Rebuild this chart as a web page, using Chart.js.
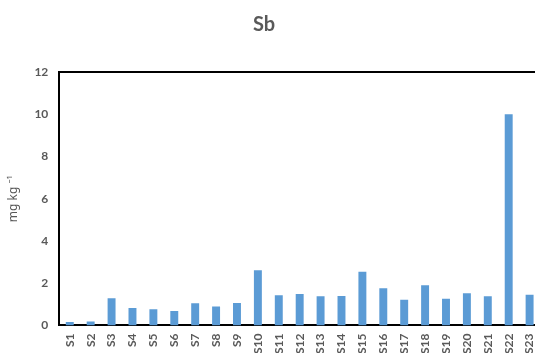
<!DOCTYPE html>
<html>
<head>
<meta charset="utf-8">
<script src="https://cdn.jsdelivr.net/npm/chart.js@4"></script>
<style>
  html, body { margin: 0; padding: 0; background: #fff; overflow: hidden; }
  #sbChart { display: block; }
</style>
</head>
<body>
<canvas id="sbChart" width="552" height="353"></canvas>
<script>
const sites = ['S1', 'S2', 'S3', 'S4', 'S5', 'S6', 'S7', 'S8', 'S9', 'S10', 'S11', 'S12',
    'S13', 'S14', 'S15', 'S16', 'S17', 'S18', 'S19', 'S20', 'S21', 'S22', 'S23'];
const sbValues = [0.17, 0.19, 1.29, 0.83, 0.77, 0.69, 1.05, 0.9, 1.07, 2.62, 1.43, 1.49,
    1.38, 1.4, 2.55, 1.76, 1.22, 1.91, 1.27, 1.53, 1.39, 10.0, 1.45];
const yTicks = [0, 2, 4, 6, 8, 10, 12];

const textGrey = '#595959';
const chartTitle = 'Sb';

// cadre noir en haut + titre (placé comme dans la figure d'origine)
const frameAndTitle = {
    id: 'frameAndTitle',
    afterDraw(chart) {
        const a = chart.chartArea;
        const ctx = chart.ctx;
        ctx.save();
        ctx.strokeStyle = '#000';
        ctx.lineWidth = 2;
        ctx.beginPath();
        ctx.moveTo(a.left - 1, a.top);
        ctx.lineTo(a.right + 10, a.top);
        ctx.stroke();

        ctx.fillStyle = textGrey;
        ctx.font = 'bold 20px Lato';
        ctx.textAlign = 'center';
        ctx.textBaseline = 'middle';
        ctx.fillText(chartTitle, 264, 25);
        ctx.restore();
    }
};

const ctx = document.getElementById('sbChart').getContext('2d');
new Chart(ctx, {
    type: 'bar',
    data: {
        labels: sites,
        datasets: [{
            label: 'Sb',
            data: sbValues,
            backgroundColor: '#5B9BD5',
            borderWidth: 0,
            barPercentage: 0.76,
            categoryPercentage: 0.5
        }]
    },
    options: {
        responsive: false,
        animation: false,
        layout: { padding: { left: 6, right: 0, top: 72, bottom: -9 } },
        scales: {
            y: {
                min: 0,
                max: 12,
                afterBuildTicks: axis => { axis.ticks = yTicks.map(v => ({ value: v })); },
                grid: { display: false, drawTicks: false },
                border: { display: true, color: '#000', width: 2 },
                ticks: {
                    color: textGrey,
                    padding: 11,
                    font: { family: 'Lato', size: 12, weight: 'bold' }
                },
                title: {
                    display: true,
                    text: 'mg kg ⁻¹',
                    color: textGrey,
                    padding: { top: 0, bottom: 3 },
                    font: { family: "'Noto Sans', sans-serif", size: 12, weight: 'normal' }
                }
            },
            x: {
                grid: { display: false, drawTicks: false },
                border: { display: true, color: '#000', width: 2 },
                ticks: {
                    color: textGrey,
                    padding: 8,
                    minRotation: 90,
                    maxRotation: 90,
                    autoSkip: false,
                    font: { family: 'Lato', size: 12, weight: 'bold' }
                }
            }
        },
        plugins: {
            legend: { display: false },
            tooltip: { enabled: false },
            title: { display: false }
        }
    },
    plugins: [frameAndTitle]
});
</script>
</body>
</html>
